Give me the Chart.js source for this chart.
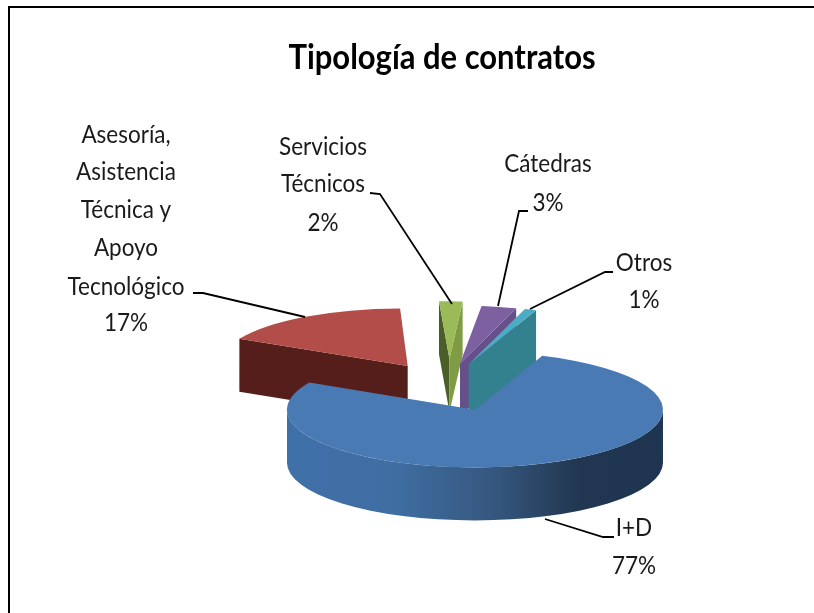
<!DOCTYPE html>
<html><head><meta charset="utf-8">
<style>html,body{margin:0;padding:0;background:#fff}#w{width:814px;height:613px;position:relative}canvas{display:block}</style>
<script src="https://cdn.jsdelivr.net/npm/chart.js@4/dist/chart.umd.min.js"></script>
</head><body><div id="w"><canvas id="c" width="814" height="613"></canvas></div>
<script>
const chartTitle = 'Tipología de contratos';
const categories = ['I+D', 'Asesoría, Asistencia Técnica y Apoyo Tecnológico', 'Servicios Técnicos', 'Cátedras', 'Otros'];
const values = [77, 17, 2, 3, 1];
const percentLabels = ['77%', '17%', '2%', '3%', '1%'];
const topColors = ['#4a7ab3', '#b24d49', '#9bbb59', '#7d60a0', '#4bacc6'];
const wallColors = ['#3f70a8', '#561e1b', '#7f9c45', '#66508a', '#33808f'];
const sideColors = ['#3f70a8', '#561e1b', '#4a5f28', '#66508a', '#33808f'];
const explode = [86, 72, 85, 72, 72];
const lean = [0, 0.03, 0.045, 0, 0];

const SQUASH = 0.307, DEPTH = 53, CX = 445, CY = 385;

const labelLayout = [
  {x:634, lines:[['I+D',528],['77%',566]], leader:[[545,519],[603,537],[614,537]]},
  {x:126, lines:[['Asesoría,',135],['Asistencia',172],['Técnica y',210],['Apoyo',248],['Tecnológico',287],['17%',323]], leader:[[193,293],[203,293],[305,317]]},
  {x:323, lines:[['Servicios',147],['Técnicos',184],['2%',223]], leader:[[370,193],[380,194],[452,304]]},
  {x:548, lines:[['Cátedras',164],['3%',203]], leader:[[528,211],[519,211],[498,306]]},
  {x:644, lines:[['Otros',263],['1%',300]], leader:[[613,272],[605,272],[530,309]]}
];

const pie3d = {
  id: 'pie3d',
  beforeDatasetDraw(chart, args) {
    const ctx = chart.ctx, arcs = args.meta.data;
    const order = [1, 2, 3, 4, 0];
    const D = DEPTH / SQUASH;
    for (const i of order) {
      const a = arcs[i];
      const p = a.getProps(['x','y','startAngle','endAngle','outerRadius']);
      const mid = (p.startAngle + p.endAngle) / 2, off = explode[i];
      const ax = p.x, ay = p.y;
      ctx.save();
      ctx.transform(1, 0, 0, SQUASH, CX - p.x, CY - SQUASH * p.y);
      ctx.translate(Math.cos(mid) * off, Math.sin(mid) * off);
      ctx.transform(1, 0, lean[i], 1, -lean[i] * ay, 0);
      const r = p.outerRadius;
      const dropX = -lean[i] * D; // keeps the walls vertical under the lean
      const pt = t => [ax + Math.cos(t) * r, ay + Math.sin(t) * r];
      const quad = (t, color) => {
        const q = pt(t);
        ctx.beginPath();
        ctx.moveTo(ax, ay); ctx.lineTo(q[0], q[1]); ctx.lineTo(q[0] + dropX, q[1] + D); ctx.lineTo(ax + dropX, ay + D); ctx.closePath();
        ctx.fillStyle = color; ctx.fill();
      };
      const norm = t => ((t % (2*Math.PI)) + 2*Math.PI) % (2*Math.PI);
      const cwS = norm(p.startAngle + Math.PI/2), cwE = norm(p.endAngle + Math.PI/2);
      if (i !== 0) {
        if (cwS > Math.PI || i === 2) quad(p.startAngle, sideColors[i]);
        if (cwE < Math.PI || i === 2) quad(p.endAngle, wallColors[i]);
      } else {
        const g = ctx.createLinearGradient(ax - r, 0, ax + r, 0);
        g.addColorStop(0, '#3f70a8'); g.addColorStop(0.28, '#3f6ea3');
        g.addColorStop(0.55, '#35577f'); g.addColorStop(0.78, '#21364f'); g.addColorStop(1, '#1f3450');
        ctx.beginPath();
        ctx.arc(ax, ay, r, 0, Math.PI);
        ctx.arc(ax, ay + D, r, Math.PI, 0, true);
        ctx.closePath();
        ctx.fillStyle = g; ctx.fill();
      }
      a.draw(ctx);
      ctx.restore();
    }
    return false;
  },
  afterDraw(chart) {
    const ctx = chart.ctx;
    ctx.save();
    ctx.strokeStyle = '#000'; ctx.lineWidth = 2;
    ctx.beginPath(); ctx.moveTo(9, 613); ctx.lineTo(9, 7); ctx.lineTo(814, 7); ctx.stroke();
    ctx.lineWidth = 1.8;
    ctx.fillStyle = '#1a1a1a'; ctx.font = '25px Lato'; ctx.textAlign = 'center'; ctx.textBaseline = 'middle';
    const sx = 0.9;
    labelLayout.forEach(l => {
      ctx.beginPath();
      l.leader.forEach((q, j) => j ? ctx.lineTo(q[0], q[1]) : ctx.moveTo(q[0], q[1]));
      ctx.stroke();
      l.lines.forEach(t => {
        ctx.save(); ctx.translate(l.x, t[1]); ctx.scale(sx, 1); ctx.fillText(t[0], 0, 0); ctx.restore();
      });
    });
    ctx.fillStyle = '#000'; ctx.font = 'bold 35px Lato';
    ctx.translate(442, 58); ctx.scale(0.885, 1);
    ctx.fillText(chartTitle, 0, 0);
    ctx.restore();
  }
};

new Chart(document.getElementById('c'), {
  type: 'pie',
  data: { labels: categories, datasets: [{ data: values, backgroundColor: topColors, borderWidth: 0 }] },
  options: {
    responsive: false, animation: false, rotation: 21, radius: 188,
    plugins: { legend: { display: false }, tooltip: { enabled: false } }
  },
  plugins: [pie3d]
});
</script></body></html>
